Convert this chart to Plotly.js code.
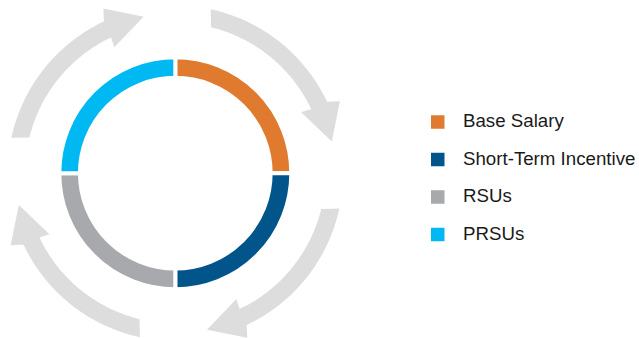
<!DOCTYPE html>
<html>
<head>
<meta charset="utf-8">
<script src="https://cdn.plot.ly/plotly-3.0.1.min.js"></script>
<style>html,body{margin:0;padding:0;background:#fff;}#chart{width:639px;height:338px;}</style>
</head>
<body>
<div id="chart"></div>
<script>
// ---- data ----
var labels = ["Base Salary", "Short-Term Incentive", "RSUs", "PRSUs"];
var values = [25, 25, 25, 25];
var colors = ["#E07A2F", "#02558B", "#A7A9AC", "#00B9F2"];

// ---- layout geometry (pixels) ----
var W = 639, H = 338;
var cx = 175.3, cy = 173.2;     // donut centre
var R = 116;                     // geometric outer radius (white 4px outline trims 2px)
var hole = 0.822;

// decorative circular arrows around the donut (angles clockwise from 12 o'clock)
function pt(r, a) {
  var t = a * Math.PI / 180;
  return [cx + r * Math.sin(t), cy - r * Math.cos(t)];
}
function arrowPath(offset) {
  var a0 = 12.5 + offset, a1 = 65 + offset, tip = 78 + offset;
  var rIn = 151, rOut = 167, hIn = 141, hOut = 178.5, rTip = 159.5;
  var pts = [], n = 40, i;
  for (i = 0; i <= n; i++) pts.push(pt(rOut, a0 + (a1 - a0) * i / n));
  pts.push(pt(hOut, a1 + 1.5));
  pts.push(pt(rTip, tip));
  pts.push(pt(hIn, a1 - 0.5));
  for (i = n; i >= 0; i--) pts.push(pt(rIn, a0 + (a1 - a0) * i / n + (i === 0 ? 1.5 : 0)));
  return "M" + pts.map(function (p) { return p[0].toFixed(2) + "," + p[1].toFixed(2); }).join("L") + "Z";
}

var shapes = [];
[0, 90, 180, 270].forEach(function (off) {
  shapes.push({type: "path", xref: "x", yref: "y", path: arrowPath(off),
    fillcolor: "#DDDDDD", line: {color: "#DDDDDD", width: 1.5}, layer: "below"});
});

// legend (square swatch + label per category)
var legX = 431, legY0 = 122, legDY = 37.5, sw = 13.5;
var annotations = [];
labels.forEach(function (lab, i) {
  var yc = legY0 + i * legDY;
  shapes.push({type: "rect", xref: "x", yref: "y", x0: legX, x1: legX + sw,
    y0: yc - sw / 2, y1: yc + sw / 2, fillcolor: colors[i], line: {width: 0}});
  annotations.push({xref: "x", yref: "y", x: 461, y: yc - 1.5, xanchor: "left", yanchor: "middle",
    text: lab, showarrow: false, font: {family: "Arial, Liberation Sans, sans-serif", size: 18.7, color: "#1A1A1A"}});
});

var trace = {
  type: "pie",
  labels: labels,
  values: values,
  marker: {colors: colors, line: {color: "#FFFFFF", width: 4}},
  hole: hole,
  sort: false,
  direction: "clockwise",
  rotation: 0,
  textinfo: "none",
  hoverinfo: "label+percent",
  showlegend: false,
  domain: {x: [(cx - R) / W, (cx + R) / W], y: [(H - cy - R) / H, (H - cy + R) / H]}
};

var layout = {
  width: W, height: H,
  margin: {l: 0, r: 0, t: 0, b: 0, pad: 0},
  paper_bgcolor: "#FFFFFF", plot_bgcolor: "rgba(0,0,0,0)",
  showlegend: false,
  xaxis: {range: [0, W], visible: false, fixedrange: true},
  yaxis: {range: [H, 0], visible: false, fixedrange: true},
  shapes: shapes,
  annotations: annotations
};

Plotly.newPlot("chart", [trace], layout, {displayModeBar: false, staticPlot: true});
</script>
</body>
</html>
